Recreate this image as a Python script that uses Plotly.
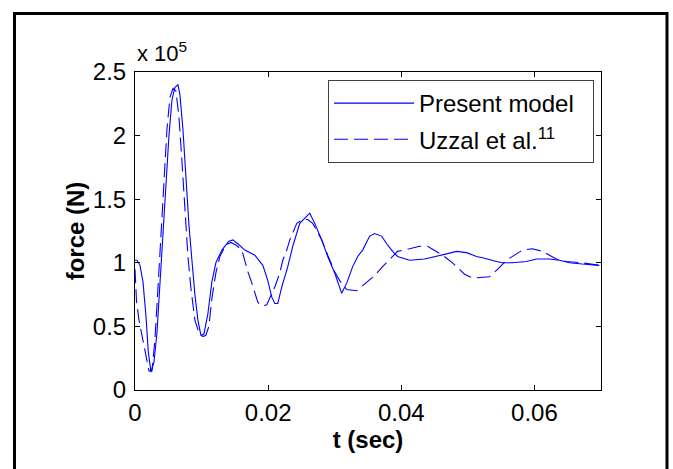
import plotly.graph_objects as go

# Present model (force in units of 1e5 N)
t_present = [0, 0.0003, 0.00075, 0.0012, 0.00165, 0.002, 0.0024, 0.00285, 0.0033, 0.00375,
             0.0042, 0.00465, 0.0051, 0.00555, 0.006, 0.00645, 0.00675, 0.0072, 0.00765, 0.0081,
             0.00855, 0.009, 0.00945, 0.0099, 0.01035, 0.01095, 0.01155, 0.01215, 0.01305, 0.0141,
             0.0147, 0.01545, 0.0165, 0.018, 0.0192, 0.01995, 0.02055, 0.021, 0.02145, 0.02205,
             0.02295, 0.0237, 0.02475, 0.0255, 0.02625, 0.027, 0.02805, 0.02895, 0.03, 0.03105,
             0.0318, 0.0327, 0.03345, 0.0342, 0.03525, 0.036, 0.03705, 0.0378, 0.0387, 0.03945,
             0.04125, 0.0435, 0.0453, 0.0468, 0.0483, 0.0498, 0.0513, 0.0522, 0.0543, 0.0552,
             0.0567, 0.0588, 0.0603, 0.06225, 0.06375, 0.06525, 0.0672, 0.06975]
f_present = [1.02, 1.02, 0.98, 0.85, 0.58, 0.30, 0.14, 0.22, 0.45, 0.85,
             1.25, 1.65, 2.00, 2.28, 2.38, 2.40, 2.32, 2.05, 1.65, 1.30,
             1.02, 0.75, 0.55, 0.43, 0.44, 0.60, 0.85, 1.00, 1.10, 1.17,
             1.18, 1.15, 1.10, 1.06, 0.98, 0.86, 0.73, 0.68, 0.68, 0.81,
             0.97, 1.13, 1.31, 1.35, 1.39, 1.31, 1.18, 1.05, 0.92, 0.76,
             0.84, 0.97, 1.05, 1.10, 1.21, 1.23, 1.21, 1.15, 1.09, 1.05,
             1.02, 1.03, 1.05, 1.07, 1.09, 1.08, 1.05, 1.04, 1.01, 1.00,
             1.00, 1.01, 1.03, 1.03, 1.02, 1.00, 0.99, 0.98]

# Uzzal et al. (force in units of 1e5 N)
t_uzzal = [0, 0.000225, 0.0006, 0.0012, 0.00165, 0.0021, 0.00255, 0.003, 0.00345, 0.0039,
           0.00435, 0.0048, 0.00525, 0.0057, 0.00615, 0.0066, 0.00705, 0.0075, 0.00795, 0.0084,
           0.009, 0.0096, 0.0102, 0.01065, 0.0111, 0.01155, 0.01215, 0.01275, 0.01365, 0.0144,
           0.01515, 0.01605, 0.01695, 0.01755, 0.01845, 0.01905, 0.0198, 0.021, 0.02175, 0.0222,
           0.0228, 0.02325, 0.0243, 0.0252, 0.02595, 0.0267, 0.02805, 0.02895, 0.03, 0.03075,
           0.0318, 0.0333, 0.0345, 0.036, 0.0372, 0.03855, 0.03945, 0.04125, 0.04275, 0.04395,
           0.0453, 0.0462, 0.0477, 0.0495, 0.0507, 0.05325, 0.0543, 0.0558, 0.0573, 0.0582,
           0.0597, 0.0612, 0.06225, 0.0633, 0.0648, 0.0672, 0.06975]
f_uzzal = [0.95, 0.70, 0.55, 0.38, 0.25, 0.15, 0.15, 0.40, 0.80, 1.25,
           1.70, 2.05, 2.30, 2.37, 2.35, 2.15, 1.80, 1.40, 1.05, 0.80,
           0.55, 0.45, 0.42, 0.43, 0.50, 0.72, 0.92, 1.05, 1.14, 1.16,
           1.14, 1.10, 0.93, 0.84, 0.69, 0.66, 0.67, 0.81, 0.92, 1.02,
           1.10, 1.18, 1.31, 1.34, 1.34, 1.31, 1.18, 1.06, 0.93, 0.86,
           0.79, 0.78, 0.83, 0.90, 0.97, 1.04, 1.09, 1.11, 1.13, 1.13,
           1.09, 1.06, 1.00, 0.91, 0.88, 0.89, 0.94, 1.02, 1.07, 1.10,
           1.11, 1.09, 1.06, 1.03, 1.01, 1.00, 0.98]

x_ticks = [0, 0.02, 0.04, 0.06]
x_ticklabels = ["0", "0.02", "0.04", "0.06"]
y_ticks = [0, 0.5, 1, 1.5, 2, 2.5]
y_ticklabels = ["0", "0.5", "1", "1.5", "2", "2.5"]

FONT = "Liberation Sans, Arial, sans-serif"
BLUE = "#0000ff"

fig = go.Figure()
fig.add_trace(go.Scatter(x=t_present, y=f_present, mode="lines",
                         name="Present model\u00a0\u00a0",
                         line=dict(color=BLUE, width=1.1), legendgroup="a"))
fig.add_trace(go.Scatter(x=t_uzzal, y=f_uzzal, mode="lines", name="Uzzal et al.<sup>11</sup>",
                         line=dict(color=BLUE, width=1.1, dash="14px,6px"), legendgroup="b"))

W, H = 673, 469
L, R, T, B = 135, 72, 72, 79
pw, ph = W - L - R, H - T - B

def px2paper_x(px):
    return (px - L) / pw

def px2paper_y(py):
    return (H - B - py) / ph

axis_common = dict(showline=True, linecolor="black", linewidth=1, mirror="ticks",
                   ticks="inside", ticklen=5, tickcolor="black", tickwidth=1,
                   showgrid=False, zeroline=False,
                   tickfont=dict(family=FONT, size=24, color="black"))

fig.update_layout(
    width=W, height=H,
    margin=dict(l=L, r=R, t=T, b=B),
    paper_bgcolor="white", plot_bgcolor="white",
    font=dict(family=FONT, color="black"),
    xaxis=dict(range=[0, 0.07], tickvals=x_ticks, ticktext=x_ticklabels,
               title=dict(text="<b>t (sec)</b>", font=dict(family=FONT, size=24), standoff=6),
               ticklabelstandoff=1, **axis_common),
    yaxis=dict(range=[0, 2.5], tickvals=y_ticks, ticktext=y_ticklabels,
               title=dict(text="<b>force (N)</b>", font=dict(family=FONT, size=24), standoff=1),
               ticklabelstandoff=3, **axis_common),
    legend=dict(x=px2paper_x(328), y=px2paper_y(80), xanchor="left", yanchor="top",
                bgcolor="white", bordercolor="#404040", borderwidth=1,
                font=dict(family=FONT, size=24, color="black"),
                tracegroupgap=2, itemwidth=80, traceorder="grouped"),
    showlegend=True,
)

fig.add_annotation(x=0, y=1, xref="paper", yref="paper", xanchor="left", yanchor="bottom",
                   text="x 10<sup>5</sup>", showarrow=False, yshift=4,
                   font=dict(family=FONT, size=22, color="black"))

# outer frame
fig.add_shape(type="rect", xref="paper", yref="paper",
              x0=px2paper_x(14.5), x1=px2paper_x(667), y0=px2paper_y(480), y1=px2paper_y(13.5),
              line=dict(color="black", width=3), layer="below")

fig.write_html("out.html")
